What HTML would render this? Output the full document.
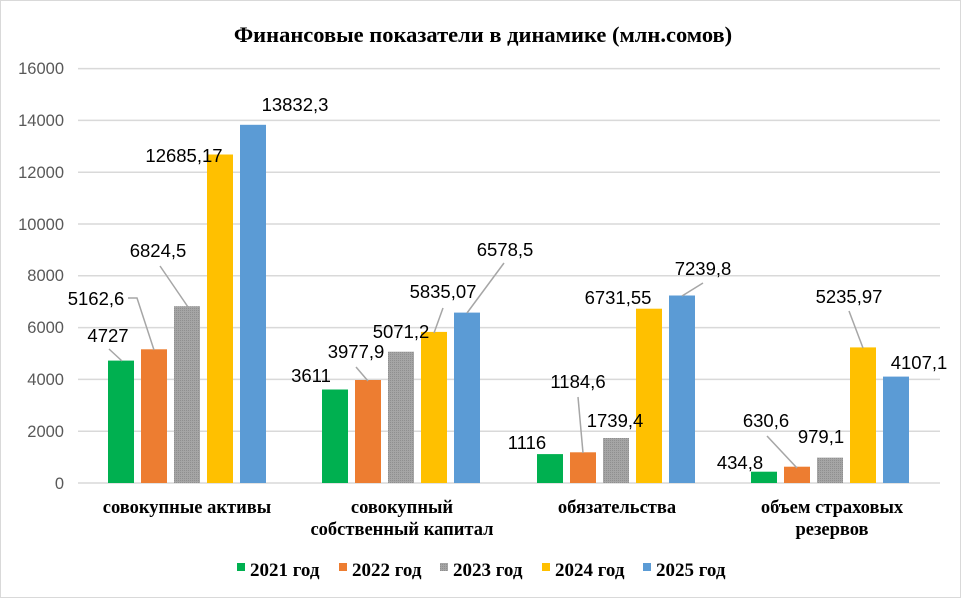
<!DOCTYPE html><html><head><style>body{margin:0;background:#fff}</style></head><body>
<svg width="961" height="598" xmlns="http://www.w3.org/2000/svg">
<defs><pattern id="g" width="2" height="2" patternUnits="userSpaceOnUse"><rect width="2" height="2" fill="#a5a5a5"/><rect width="1" height="1" fill="#8f8f8f"/></pattern></defs>
<rect x="0.5" y="0.5" width="960" height="597" fill="#fff" stroke="#d9d9d9"/>
<text x="483" y="42" text-anchor="middle" font-family="Liberation Serif" font-weight="bold" font-size="22.5">Финансовые показатели в динамике (млн.сомов)</text>
<g stroke="#d9d9d9" stroke-width="1.5">
<line x1="78" x2="940" y1="483" y2="483"/><line x1="78" x2="940" y1="431.2" y2="431.2"/><line x1="78" x2="940" y1="379.4" y2="379.4"/><line x1="78" x2="940" y1="327.6" y2="327.6"/><line x1="78" x2="940" y1="275.8" y2="275.8"/><line x1="78" x2="940" y1="224" y2="224"/><line x1="78" x2="940" y1="172.2" y2="172.2"/><line x1="78" x2="940" y1="120.4" y2="120.4"/><line x1="78" x2="940" y1="68.6" y2="68.6"/>
</g>
<g font-family="Liberation Sans" font-size="16.5" fill="#595959" text-anchor="end">
<text x="64" y="489">0</text><text x="64" y="437">2000</text><text x="64" y="385">4000</text><text x="64" y="333">6000</text><text x="64" y="281">8000</text><text x="64" y="230">10000</text><text x="64" y="178">12000</text><text x="64" y="126">14000</text><text x="64" y="74">16000</text>
</g>
<g>
<rect x="108" y="360.6" width="26" height="122.4" fill="#00b050"/>
<rect x="141" y="349.3" width="26" height="133.7" fill="#ed7d31"/>
<rect x="174" y="306.2" width="26" height="176.8" fill="url(#g)"/>
<rect x="207" y="154.5" width="26" height="328.5" fill="#ffc000"/>
<rect x="240" y="124.8" width="26" height="358.2" fill="#5b9bd5"/>
<rect x="322" y="389.5" width="26" height="93.5" fill="#00b050"/>
<rect x="355" y="380" width="26" height="103" fill="#ed7d31"/>
<rect x="388" y="351.7" width="26" height="131.3" fill="url(#g)"/>
<rect x="421" y="331.9" width="26" height="151.1" fill="#ffc000"/>
<rect x="454" y="312.6" width="26" height="170.4" fill="#5b9bd5"/>
<rect x="537" y="454.1" width="26" height="28.9" fill="#00b050"/>
<rect x="570" y="452.3" width="26" height="30.7" fill="#ed7d31"/>
<rect x="603" y="438" width="26" height="45" fill="url(#g)"/>
<rect x="636" y="308.7" width="26" height="174.3" fill="#ffc000"/>
<rect x="669" y="295.5" width="26" height="187.5" fill="#5b9bd5"/>
<rect x="751" y="471.7" width="26" height="11.3" fill="#00b050"/>
<rect x="784" y="466.7" width="26" height="16.3" fill="#ed7d31"/>
<rect x="817" y="457.6" width="26" height="25.4" fill="url(#g)"/>
<rect x="850" y="347.4" width="26" height="135.6" fill="#ffc000"/>
<rect x="883" y="376.6" width="26" height="106.4" fill="#5b9bd5"/>
</g>
<g stroke="#a6a6a6" stroke-width="1.5" fill="none">
<polyline points="109,349 122,361"/>
<polyline points="128,298 137,298 154,350"/>
<polyline points="160,266 188,307"/>
<polyline points="356,367 368,381"/>
<polyline points="443,308 434,333"/>
<polyline points="504,263 467,313"/>
<polyline points="578,397 583,453"/>
<polyline points="703,283 682,296"/>
<polyline points="767,436 797,468"/>
<polyline points="849,311 863,348"/>
</g>
<g font-family="Liberation Sans" font-size="18.5" fill="#000" text-anchor="middle">
<text x="108" y="342">4727</text><text x="96" y="305">5162,6</text><text x="158" y="257">6824,5</text><text x="184" y="162">12685,17</text><text x="295" y="111">13832,3</text>
<text x="311" y="382">3611</text><text x="356" y="358">3977,9</text><text x="401" y="338">5071,2</text><text x="443" y="298">5835,07</text><text x="505" y="256">6578,5</text>
<text x="527" y="449">1116</text><text x="578" y="388">1184,6</text><text x="615" y="427">1739,4</text><text x="618" y="304">6731,55</text><text x="703" y="275">7239,8</text>
<text x="740" y="469">434,8</text><text x="766" y="427">630,6</text><text x="821" y="443">979,1</text><text x="849" y="303">5235,97</text><text x="919" y="369">4107,1</text>
</g>
<g font-family="Liberation Serif" font-weight="bold" font-size="18.5" text-anchor="middle">
<text x="187" y="513">совокупные активы</text>
<text x="402" y="513">совокупный</text><text x="402" y="535">собственный капитал</text>
<text x="617" y="513">обязательства</text>
<text x="832" y="513">объем страховых</text><text x="832" y="535">резервов</text>
</g>
<g font-family="Liberation Serif" font-weight="bold" font-size="19">
<rect x="237" y="563" width="8" height="8" fill="#00b050"/><text x="250" y="576">2021 год</text>
<rect x="339" y="563" width="8" height="8" fill="#ed7d31"/><text x="352" y="576">2022 год</text>
<rect x="440" y="563" width="8" height="8" fill="url(#g)"/><text x="453" y="576">2023 год</text>
<rect x="542" y="563" width="8" height="8" fill="#ffc000"/><text x="555" y="576">2024 год</text>
<rect x="643" y="563" width="8" height="8" fill="#5b9bd5"/><text x="656" y="576">2025 год</text>
</g>
</svg>
</body></html>
